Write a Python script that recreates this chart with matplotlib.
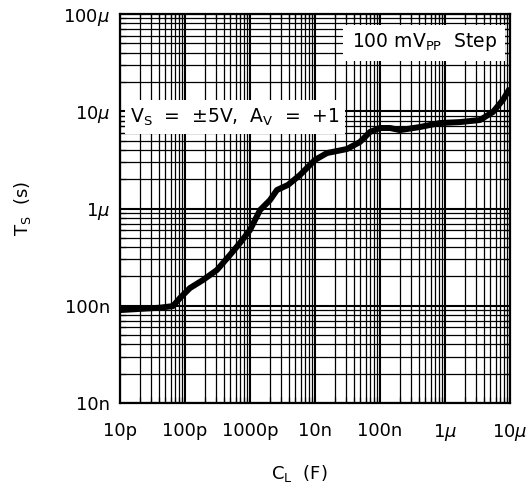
import matplotlib
matplotlib.use("Agg")
import matplotlib.pyplot as plt
from matplotlib.patches import Rectangle
from matplotlib.ticker import LogLocator, NullFormatter, FixedLocator

plt.rcParams['font.family'] = ['DejaVu Sans']
plt.rcParams['mathtext.fontset'] = 'dejavusans'

# settling time vs load capacitance
cap = [1.0e-11, 4.12e-11, 6.53e-11, 8.37e-11, 1.19e-10, 1.89e-10, 3.10e-10,
       4.92e-10, 7.01e-10, 1.0e-9, 1.43e-9, 2.03e-9, 2.60e-9, 3.85e-9,
       5.87e-9, 1.0e-8, 1.53e-8, 3.10e-8, 4.92e-8, 7.01e-8, 1.0e-7,
       1.43e-7, 2.03e-7, 4.12e-7, 8.37e-7, 1.70e-6, 3.45e-6, 5.47e-6,
       7.80e-6, 1.0e-5]
ts = [9.03e-8, 9.55e-8, 9.93e-8, 1.20e-7, 1.52e-7, 1.84e-7, 2.33e-7,
      3.33e-7, 4.42e-7, 6.01e-7, 9.66e-7, 1.22e-6, 1.55e-6, 1.75e-6,
      2.21e-6, 3.16e-6, 3.72e-6, 4.09e-6, 4.83e-6, 6.12e-6, 6.73e-6,
      6.73e-6, 6.40e-6, 6.89e-6, 7.57e-6, 7.74e-6, 8.13e-6, 9.82e-6,
      1.31e-5, 1.73e-5]

x_ticks = [1e-11, 1e-10, 1e-9, 1e-8, 1e-7, 1e-6, 1e-5]
x_labels = ['10p', '100p', '1000p', '10n', '100n', r'1$\mu$', r'10$\mu$']
y_ticks = [1e-8, 1e-7, 1e-6, 1e-5, 1e-4]
y_labels = ['10n', '100n', r'1$\mu$', r'10$\mu$', r'100$\mu$']

fig = plt.figure(figsize=(5.3, 4.94), dpi=100)
ax = fig.add_axes([0.2264, 0.1842, 0.7358, 0.7874])
ax.set_xscale('log')
ax.set_yscale('log')
ax.set_xlim(1e-11, 1e-5)
ax.set_ylim(1e-8, 1e-4)

ax.xaxis.set_major_locator(FixedLocator(x_ticks))
ax.yaxis.set_major_locator(FixedLocator(y_ticks))
ax.set_xticklabels(x_labels)
ax.set_yticklabels(y_labels)
ax.xaxis.set_minor_locator(LogLocator(base=10, subs=range(2, 10), numticks=20))
ax.yaxis.set_minor_locator(LogLocator(base=10, subs=range(2, 10), numticks=20))
ax.xaxis.set_minor_formatter(NullFormatter())
ax.yaxis.set_minor_formatter(NullFormatter())

ax.set_axisbelow(True)
ax.grid(which='major', color='black', linewidth=1.5)
ax.grid(which='minor', color='black', linewidth=0.9)
ax.tick_params(which='both', direction='in', top=True, right=True, color='black')
ax.tick_params(which='major', length=5, width=1.2)
ax.tick_params(which='minor', length=4, width=0.9)
ax.tick_params(axis='x', which='major', pad=14, labelsize=13)
ax.tick_params(axis='y', which='major', pad=7, labelsize=13)
for s in ax.spines.values():
    s.set_linewidth(1.6)

# white label boxes sitting over the grid
ax.add_patch(Rectangle((0.573, 0.88), 0.415, 0.093, transform=ax.transAxes,
                       facecolor='white', edgecolor='none', zorder=1))
ax.add_patch(Rectangle((0.013, 0.691), 0.565, 0.087, transform=ax.transAxes,
                       facecolor='white', edgecolor='none', zorder=1))
ax.text(0.78, 0.927, r'100 mV$_\mathrm{PP}$  Step', transform=ax.transAxes,
        ha='center', va='center', fontsize=13.5, zorder=2)
ax.text(0.295, 0.735, r'V$_\mathrm{S}$  =  ±5V,  A$_\mathrm{V}$  =  +1',
        transform=ax.transAxes, ha='center', va='center', fontsize=13.5, zorder=2)

ax.plot(cap, ts, color='black', linewidth=4.3, solid_joinstyle='round',
        solid_capstyle='butt', zorder=3)

ax.set_xlabel(r'C$_\mathrm{L}$  (F)', fontsize=13, labelpad=12)
ax.xaxis.set_label_coords(0.46, -0.155)
ax.set_ylabel(r'T$_\mathrm{S}$  (s)', fontsize=13)
ax.yaxis.set_label_coords(-0.222, 0.5)

fig.savefig('out.png', dpi=100)
